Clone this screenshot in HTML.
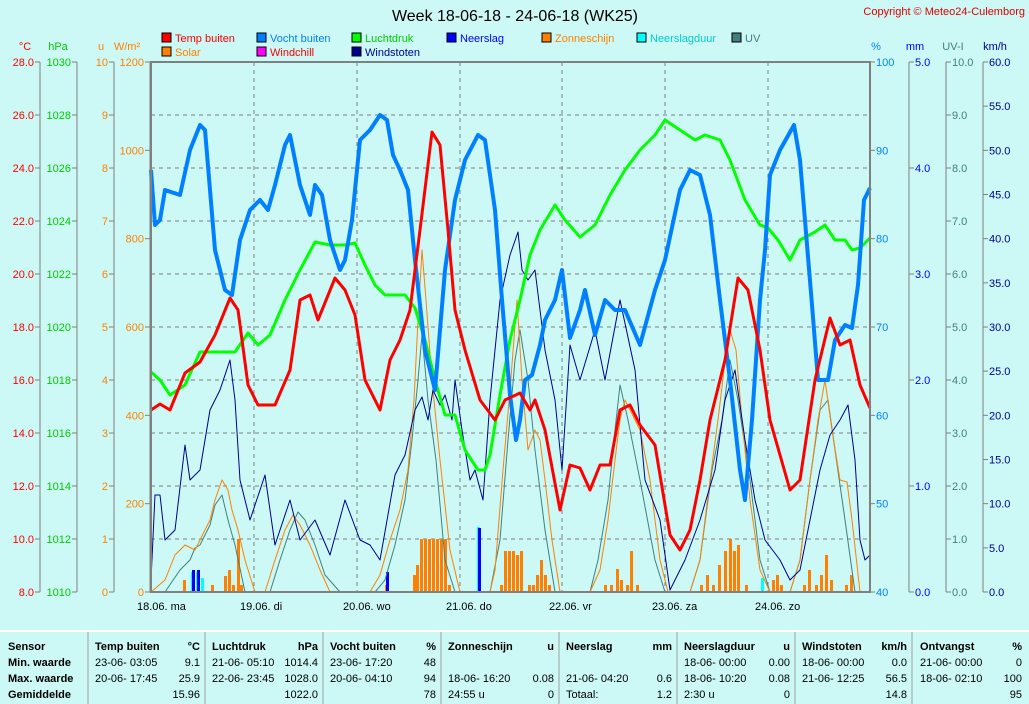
<!DOCTYPE html>
<html><head><meta charset="utf-8"><style>
body{margin:0;background:#ccf9f5;width:1029px;height:704px;overflow:hidden;font-family:"Liberation Sans",sans-serif}
svg{position:absolute;left:0;top:0}
text{font-family:"Liberation Sans",sans-serif;font-size:11px}
</style></head><body>
<svg width="1029" height="704" viewBox="0 0 1029 704">
<rect width="1029" height="704" fill="#ccf9f5"/>
<text x="515" y="21" style="font-size:16px" text-anchor="middle" fill="#000">Week 18-06-18 - 24-06-18 (WK25)</text>
<text x="1025" y="15" text-anchor="end" fill="#e00000">Copyright © Meteo24-Culemborg</text>
<g stroke="#000" stroke-width="1">
<rect x="162" y="33" width="9" height="9" fill="#f00"/><rect x="162" y="47" width="9" height="9" fill="#ff8000"/>
<rect x="257" y="33" width="9" height="9" fill="#0080ff"/><rect x="257" y="47" width="9" height="9" fill="#f0f"/>
<rect x="352" y="33" width="9" height="9" fill="#0f0"/><rect x="352" y="47" width="9" height="9" fill="#000090"/>
<rect x="447" y="33" width="9" height="9" fill="#00f"/>
<rect x="542" y="33" width="9" height="9" fill="#ff8000"/>
<rect x="637" y="33" width="9" height="9" fill="#0ff"/>
<rect x="732" y="33" width="9" height="9" fill="#408080"/>
</g>
<text x="175" y="42" fill="#f00">Temp buiten</text><text x="175" y="56" fill="#ff8000">Solar</text>
<text x="270" y="42" fill="#0080ff">Vocht buiten</text><text x="270" y="56" fill="#f00">Windchill</text>
<text x="365" y="42" fill="#0c0">Luchtdruk</text><text x="365" y="56" fill="#000090">Windstoten</text>
<text x="460" y="42" fill="#00f">Neerslag</text>
<text x="555" y="42" fill="#ff8000">Zonneschijn</text>
<text x="650" y="42" fill="#0cc">Neerslagduur</text>
<text x="745" y="42" fill="#408080">UV</text>
<text x="25" y="50" text-anchor="middle" fill="#f00">°C</text>
<text x="58" y="50" text-anchor="middle" fill="#0c0">hPa</text>
<text x="101" y="50" text-anchor="middle" fill="#ff8000">u</text>
<text x="127" y="50" text-anchor="middle" fill="#ff8000">W/m²</text>
<text x="876" y="50" text-anchor="middle" fill="#0080ff">%</text>
<text x="915" y="50" text-anchor="middle" fill="#00f">mm</text>
<text x="953" y="50" text-anchor="middle" fill="#408080">UV-I</text>
<text x="995" y="50" text-anchor="middle" fill="#000090">km/h</text>
<g stroke="#808080" stroke-dasharray="4,4" stroke-width="1">
<line x1="151" x2="870" y1="115" y2="115"/><line x1="151" x2="870" y1="168" y2="168"/><line x1="151" x2="870" y1="221" y2="221"/><line x1="151" x2="870" y1="274" y2="274"/><line x1="151" x2="870" y1="327" y2="327"/><line x1="151" x2="870" y1="380" y2="380"/><line x1="151" x2="870" y1="433" y2="433"/><line x1="151" x2="870" y1="486" y2="486"/><line x1="151" x2="870" y1="539" y2="539"/>
<line x1="254" x2="254" y1="62" y2="592"/><line x1="357" x2="357" y1="62" y2="592"/><line x1="460" x2="460" y1="62" y2="592"/><line x1="562" x2="562" y1="62" y2="592"/><line x1="665" x2="665" y1="62" y2="592"/><line x1="768" x2="768" y1="62" y2="592"/>
</g>
<g id="axes" stroke="#808080" stroke-width="1" fill="none"></g>
<g id="labels"></g>
<g id="series"></g>
<rect x="151" y="62" width="719" height="530" fill="none" stroke="#808080" stroke-width="2"/>
<g fill="#000">
<text x="137" y="610">18.06.  ma</text><text x="240" y="610">19.06.  di</text><text x="343" y="610">20.06.  wo</text><text x="446" y="610">21.06.  do</text><text x="549" y="610">22.06.  vr</text><text x="652" y="610">23.06.  za</text><text x="755" y="610">24.06.  zo</text>
</g>
<line x1="0" x2="1029" y1="631" y2="631" stroke="#fff" stroke-width="2"/>
<g stroke="#a0a0a0"><line x1="88" x2="88" y1="632" y2="704"/><line x1="205" x2="205" y1="632" y2="704"/><line x1="323" x2="323" y1="632" y2="704"/><line x1="441" x2="441" y1="632" y2="704"/><line x1="559" x2="559" y1="632" y2="704"/><line x1="677" x2="677" y1="632" y2="704"/><line x1="795" x2="795" y1="632" y2="704"/><line x1="912" x2="912" y1="632" y2="704"/></g>
<g id="tbl"></g>
</svg>
<script>
const NS="http://www.w3.org/2000/svg";
function el(p,t,a,txt){const e=document.createElementNS(NS,t);for(const k in a)e.setAttribute(k,a[k]);if(txt!==undefined)e.textContent=txt;document.getElementById(p).appendChild(e);return e;}
function axis(x,min,max,n,fmt,col,side){el('axes','line',{x1:x,x2:x,y1:62,y2:592});
for(let i=0;i<=n;i++){const y=592-i*530/n;const v=min+(max-min)*i/n;
if(side<0){el('axes','line',{x1:x-5,x2:x,y1:y,y2:y});el('labels','text',{x:x-6,y:y+4,'text-anchor':'end',fill:col},fmt(v));}
else{el('axes','line',{x1:x,x2:x+5,y1:y,y2:y});el('labels','text',{x:x+6,y:y+4,fill:col},fmt(v));}}}
axis(40,8,28,10,v=>v.toFixed(1),'#f00',-1);
axis(77,1010,1030,10,v=>v.toFixed(0),'#0c0',-1);
axis(114,0,10,10,v=>v.toFixed(0),'#ff8000',-1);
axis(150,0,1200,6,v=>v.toFixed(0),'#ff8000',-1);
axis(870,40,100,6,v=>v.toFixed(0),'#0080ff',1);
axis(909,0,5,5,v=>v.toFixed(1),'#00f',1);
axis(946,0,10,10,v=>v.toFixed(1),'#408080',1);
axis(983,0,60,12,v=>v.toFixed(1),'#000090',1);
function line(pts,col,w){el('series','polyline',{points:pts,fill:'none',stroke:col,'stroke-width':w,'stroke-linejoin':'round'});}
function bar(x,y,col,w){el('series','rect',{x:x,y:y,width:w||3,height:592-y,fill:col});}
[[183,580],[211,585],[224,576],[228,570],[232,585],[237,539],[240,585],[385,585],[413,575],[416,565],[420,539],[424,539],[428,539],[432,539],[436,539],[440,539],[444,539],[448,585],[500,585],[504,551],[508,551],[512,551],[516,555],[520,551],[528,585],[532,585],[536,575],[540,560],[544,575],[548,585],[604,585],[610,585],[616,569],[620,580],[626,585],[630,551],[636,585],[700,585],[706,575],[712,585],[718,565],[724,551],[729,539],[733,551],[737,545],[745,585],[772,580],[776,575],[780,585],[803,585],[808,570],[815,585],[820,575],[825,555],[830,580],[845,585],[850,575]].forEach(b=>bar(b[0],b[1],'#ff8000',3));
bar(191,572,'#0ff',3);bar(196,572,'#0ff',3);bar(201,578,'#0ff',3);bar(477,527,'#0ff',3);bar(761,578,'#0ff',3);
bar(192,570,'#00f',3);bar(197,570,'#00f',3);bar(386,572,'#00f',3);bar(478,528,'#00f',3);
line("151,592 165,592 180,570 190,560 195,548 200,545 210,525 215,505 222,495 228,520 235,545 245,592 270,592 280,560 290,530 298,512 305,520 315,545 325,575 340,592 375,592 385,580 395,545 405,500 412,440 418,380 422,335 428,400 436,460 445,560 455,592 490,592 500,540 508,440 515,360 520,330 528,380 535,450 545,530 555,592 590,592 598,560 608,500 615,430 620,385 628,420 640,480 655,560 665,592 690,592 700,560 712,470 722,420 730,360 738,400 750,480 760,560 770,592 790,592 800,560 810,480 820,410 828,400 835,450 845,520 855,592 870,592",'#408080',1);
line("151,592 165,580 175,555 185,545 195,550 200,540 210,520 215,500 222,480 228,490 232,510 238,530 245,560 255,592 265,592 275,560 285,530 293,515 300,525 310,545 320,570 330,592 370,592 380,575 390,540 400,510 408,470 414,400 418,320 422,250 426,300 432,380 440,460 450,550 460,592 490,592 495,570 503,470 510,390 517,300 522,380 528,450 535,430 540,440 545,480 552,540 560,592 590,592 600,570 608,520 615,460 620,420 625,400 630,410 640,430 650,480 660,560 668,592 690,592 700,560 710,480 718,420 724,370 730,330 736,350 742,420 750,500 760,570 770,592 790,592 800,560 810,480 818,420 825,380 832,430 840,480 847,482 852,520 860,592 870,592",'#ff8000',1);
line("151,580 155,495 160,495 165,540 175,530 185,445 190,480 200,470 210,410 220,390 230,360 235,400 240,480 250,520 265,475 275,545 290,500 300,540 315,520 330,555 345,500 360,540 370,545 380,560 395,475 405,455 415,410 422,397 428,420 433,390 440,405 445,395 452,420 455,380 462,430 470,480 475,470 483,500 490,400 500,300 510,255 518,232 522,270 528,280 535,270 545,350 555,400 562,470 570,345 580,380 595,330 605,380 620,300 635,370 645,480 660,520 670,590 685,560 700,520 715,470 725,400 735,370 745,440 755,500 765,540 780,560 790,580 800,570 810,520 820,470 830,435 840,420 848,405 855,460 860,540 865,560 870,555",'#000090',1);
line("151,372 160,380 170,395 185,385 200,352 215,352 235,352 248,333 258,345 270,335 285,300 300,270 315,242 330,245 345,245 355,243 365,265 375,285 385,295 395,295 405,295 415,308 425,340 435,380 445,415 455,415 465,450 478,470 485,470 490,455 500,395 510,340 520,300 530,255 540,230 555,205 565,220 580,237 595,225 610,195 625,170 640,150 655,135 665,120 680,130 695,140 705,135 720,140 730,160 745,200 760,225 768,228 778,240 790,260 800,240 815,232 825,225 835,240 845,240 852,250 860,248 870,238",'#0f0',3);
line("151,170 155,225 160,220 165,190 180,195 190,150 200,125 205,130 215,250 225,290 232,295 240,240 250,210 260,200 268,210 275,185 285,145 290,135 300,185 310,215 315,185 322,195 330,240 340,270 345,260 352,220 360,140 370,130 380,115 387,120 393,155 400,170 408,190 415,260 425,350 435,390 445,270 455,200 465,160 478,135 485,140 495,210 502,300 510,395 516,440 520,420 525,380 532,375 540,345 545,320 555,300 562,270 570,338 580,310 585,290 595,335 605,300 615,310 625,310 640,345 655,290 665,260 680,190 690,170 700,175 710,215 720,300 730,380 740,470 745,500 752,420 760,300 765,250 770,175 780,150 794,125 800,160 812,305 818,380 828,380 835,340 845,325 852,328 858,285 864,200 870,188",'#0080ff',4);
line("151,410 160,404 170,410 185,373 200,362 215,335 230,298 238,310 248,385 258,405 275,405 290,370 300,300 310,295 318,320 335,278 345,290 355,315 365,380 380,410 390,360 400,340 410,310 420,230 432,132 440,145 448,230 455,310 465,350 480,400 495,420 505,400 520,393 530,410 535,400 545,430 560,510 570,465 580,468 590,490 600,465 610,465 620,410 630,405 640,425 655,445 670,535 680,550 690,530 700,480 710,420 725,360 738,278 748,290 760,350 770,420 790,490 800,480 815,380 830,318 840,345 850,340 860,385 870,408",'#f00',3);
const rows=[646,662,678,694];
function t(x,y,s,b,anc){el('tbl','text',{x:x,y:y,'font-weight':b?'bold':'normal','text-anchor':anc||'start',fill:'#000'},s);}
['Sensor','Min. waarde','Max. waarde','Gemiddelde'].forEach((s,i)=>t(8,rows[i]+4,s,1));
const cols=[[95,200,'Temp buiten','°C',['23-06-  03:05','20-06-  17:45',''],['9.1','25.9','15.96']],
[212,318,'Luchtdruk','hPa',['21-06-  05:10','22-06-  23:45',''],['1014.4','1028.0','1022.0']],
[330,436,'Vocht buiten','%',['23-06-  17:20','20-06-  04:10',''],['48','94','78']],
[448,554,'Zonneschijn','u',['','18-06-  16:20','24:55 u'],['','0.08','0']],
[566,672,'Neerslag','mm',['','21-06-  04:20','Totaal:'],['','0.6','1.2']],
[684,790,'Neerslagduur','u',['18-06-  00:00','18-06-  10:20','2:30 u'],['0.00','0.08','0']],
[802,907,'Windstoten','km/h',['18-06-  00:00','21-06-  12:25',''],['0.0','56.5','14.8']],
[920,1022,'Ontvangst','%',['21-06-  00:00','18-06-  02:10',''],['0','100','95']]];
cols.forEach(c=>{t(c[0],rows[0]+4,c[2],1);t(c[1],rows[0]+4,c[3],1,'end');
for(let i=0;i<3;i++){t(c[0],rows[i+1]+4,c[4][i]);t(c[1],rows[i+1]+4,c[5][i],0,'end');}});
</script>
</body></html>
